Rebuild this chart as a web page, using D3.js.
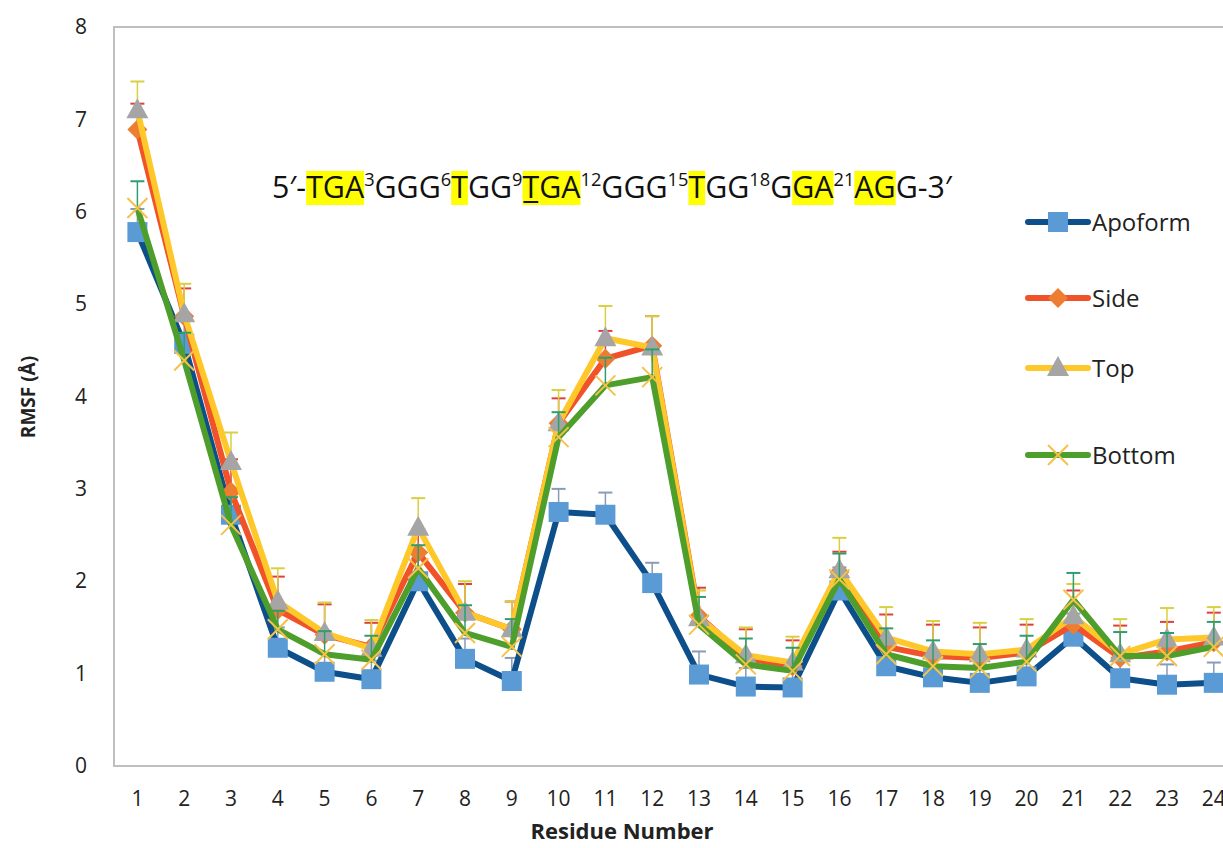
<!DOCTYPE html>
<html>
<head>
<meta charset="utf-8">
<script src="https://cdn.jsdelivr.net/npm/d3@7"></script>
<style>
body { margin: 0; background: #fff; }
text { font-family: "Open Sans", "Liberation Sans", sans-serif; }
</style>
</head>
<body>
<script>
var residues = d3.range(1, 25);

var apoform = [5.78, 4.57, 2.72, 1.28, 1.02, 0.94, 2.0, 1.16, 0.92, 2.75, 2.72, 1.98,
               0.99, 0.86, 0.85, 1.9, 1.08, 0.96, 0.9, 0.97, 1.4, 0.95, 0.88, 0.9];
var side    = [6.89, 4.87, 2.97, 1.69, 1.42, 1.29, 2.31, 1.66, 1.48, 3.71, 4.41, 4.55,
               1.62, 1.17, 1.08, 2.1, 1.29, 1.19, 1.17, 1.23, 1.53, 1.17, 1.24, 1.34];
var top_    = [7.1, 4.89, 3.29, 1.78, 1.44, 1.27, 2.58, 1.66, 1.48, 3.71, 4.63, 4.53,
               1.6, 1.2, 1.12, 2.12, 1.39, 1.24, 1.21, 1.26, 1.62, 1.21, 1.37, 1.39];
var bottom  = [6.04, 4.39, 2.61, 1.48, 1.21, 1.15, 2.14, 1.44, 1.29, 3.56, 4.12, 4.21,
               1.53, 1.1, 1.03, 2.02, 1.21, 1.08, 1.06, 1.13, 1.8, 1.19, 1.19, 1.29];

var apoformErr = [0.25, 0.3, 0.25, 0.22, 0.2, 0.2, 0.25, 0.22, 0.25, 0.25, 0.24, 0.22,
                  0.25, 0.2, 0.2, 0.25, 0.2, 0.2, 0.2, 0.22, 0.25, 0.2, 0.22, 0.22];
var sideErr    = [0.28, 0.3, 0.35, 0.36, 0.33, 0.26, 0.25, 0.31, 0.3, 0.27, 0.3, 0.32,
                  0.31, 0.31, 0.28, 0.22, 0.35, 0.34, 0.33, 0.3, 0.37, 0.35, 0.32, 0.32];
var topErr     = [0.31, 0.33, 0.32, 0.36, 0.33, 0.31, 0.32, 0.34, 0.3, 0.36, 0.35, 0.34,
                  0.3, 0.3, 0.28, 0.35, 0.33, 0.33, 0.34, 0.33, 0.35, 0.38, 0.34, 0.33];
var bottomErr  = [0.29, 0.3, 0.3, 0.2, 0.25, 0.26, 0.25, 0.3, 0.3, 0.27, 0.3, 0.3,
                  0.3, 0.28, 0.25, 0.28, 0.28, 0.28, 0.26, 0.28, 0.29, 0.26, 0.25, 0.27];

var yTicks = [0, 1, 2, 3, 4, 5, 6, 7, 8];

// sequence pieces: text, kind (n = normal, h = highlighted, s = superscript), underline
var seqText = ["5\u2032-", "TGA", "3", "GGG", "6", "T", "GG", "9", "T", "GA", "12", "GGG", "15",
               "T", "GG", "18", "G", "GA", "21", "AG", "G-3\u2032"];
var seqKind = ["n", "h", "s", "n", "s", "h", "n", "s", "h", "h", "s", "n", "s",
               "h", "n", "s", "n", "h", "s", "h", "n"];
var seqUnder = [8];

var w = 1223;
var h = 848;

var svg = d3.select("body")
			.append("svg")
			.attr("width", w)
			.attr("height", h);

var xScale = d3.scaleBand()
				.domain(residues)
				.range([114, 114 + 24 * 46.8]);

var yScale = d3.scaleLinear()
				.domain([0, 8])
				.range([766, 27]);

var cx = function(i){ return xScale(residues[i]) + xScale.bandwidth() / 2; };

// plot frame
svg.append("rect")
	.attr("x", 114)
	.attr("y", 27)
	.attr("width", 24 * 46.8 + 20)
	.attr("height", 766 - 27)
	.attr("fill", "none")
	.attr("stroke", "#bfbfbf")
	.attr("stroke-width", 2);

var yAxis = d3.axisLeft(yScale).tickValues(yTicks).tickSize(0).tickPadding(27);
var gy = svg.append("g").attr("transform", "translate(114,0)").call(yAxis);
gy.select(".domain").remove();
gy.selectAll("text").attr("font-size", "21px").attr("fill", "#222");

var xAxis = d3.axisBottom(xScale).tickSize(0).tickPadding(25);
var gx = svg.append("g").attr("transform", "translate(0,766)").call(xAxis);
gx.select(".domain").remove();
gx.selectAll("text").attr("font-size", "21px").attr("fill", "#222");

svg.append("text")
	.attr("x", 622)
	.attr("y", 839)
	.attr("text-anchor", "middle")
	.attr("font-size", "22px")
	.attr("font-weight", "bold")
	.attr("fill", "#222")
	.text("Residue Number");

svg.append("text")
	.attr("transform", "translate(35,397) rotate(-90)")
	.attr("text-anchor", "middle")
	.attr("font-size", "19px")
	.attr("font-weight", "bold")
	.attr("fill", "#222")
	.text("RMSF (\u00c5)");

var series = [
	{name: "Apoform", vals: apoform, err: apoformErr, line: "#0d4f8b", mark: "#5b9bd5", errc: "#8a9bb5", sym: "square", ly: 222},
	{name: "Side", vals: side, err: sideErr, line: "#f0522a", mark: "#ed7d31", errc: "#e0403c", sym: "diamond", ly: 298},
	{name: "Top", vals: top_, err: topErr, line: "#ffc82a", mark: "#a5a5a5", errc: "#d8d040", sym: "triangle", ly: 368},
	{name: "Bottom", vals: bottom, err: bottomErr, line: "#4e9e2c", mark: "#f4c24a", errc: "#2e9e70", sym: "cross", ly: 455}
];

function marker(g, s){
	if (s.sym == "square") {
		g.append("rect").attr("x", -10).attr("y", -10).attr("width", 20).attr("height", 20).attr("fill", s.mark);
	} else if (s.sym == "diamond") {
		g.append("path").attr("d", "M0,-10L10,0L0,10L-10,0Z").attr("fill", s.mark);
	} else if (s.sym == "triangle") {
		g.append("path").attr("d", "M0,-12L11,8L-11,8Z").attr("fill", s.mark);
	} else {
		g.append("path").attr("d", "M-10,-10L10,10M10,-10L-10,10").attr("stroke", s.mark).attr("stroke-width", 2);
	}
}

var line = d3.line()
				.x(function(d, i){ return cx(i); })
				.y(function(d){ return yScale(d); });

series.forEach(function(s){
	var g = svg.append("g");
	// upper error bars
	var eb = g.selectAll(".eb").data(s.vals).enter().append("g");
	eb.append("line")
		.attr("x1", function(d, i){ return cx(i); })
		.attr("x2", function(d, i){ return cx(i); })
		.attr("y1", function(d){ return yScale(d); })
		.attr("y2", function(d, i){ return yScale(d + s.err[i]); })
		.attr("stroke", s.errc).attr("stroke-width", 1.5);
	eb.append("line")
		.attr("x1", function(d, i){ return cx(i) - 7; })
		.attr("x2", function(d, i){ return cx(i) + 7; })
		.attr("y1", function(d, i){ return yScale(d + s.err[i]); })
		.attr("y2", function(d, i){ return yScale(d + s.err[i]); })
		.attr("stroke", s.errc).attr("stroke-width", 2);

	g.append("path")
		.attr("d", line(s.vals))
		.attr("fill", "none")
		.attr("stroke", s.line)
		.attr("stroke-width", 6)
		.attr("stroke-linejoin", "round");

	g.selectAll(".pt").data(s.vals).enter().append("g")
		.attr("transform", function(d, i){ return "translate(" + cx(i) + "," + yScale(d) + ")"; })
		.each(function(){ marker(d3.select(this), s); });

	// legend
	var lg = svg.append("g").attr("transform", "translate(1028," + s.ly + ")");
	lg.append("line").attr("x1", 0).attr("x2", 60).attr("stroke", s.line).attr("stroke-width", 6).attr("stroke-linecap", "round");
	var lm = lg.append("g").attr("transform", "translate(30,0)");
	marker(lm, s);
	lg.append("text").attr("x", 64).attr("y", 9).attr("font-size", "24px").attr("fill", "#222").text(s.name);
});

// sequence annotation
var seq = svg.append("g");
function layoutSeq(fs){
	seq.selectAll("*").remove();
	var x = 272;
	var base = 198;
	seqText.forEach(function(t, i){
		var k = seqKind[i];
		var size = k == "s" ? fs * 0.6 : fs;
		var txt = seq.append("text")
			.attr("x", x)
			.attr("y", k == "s" ? base - fs * 0.38 : base)
			.attr("font-size", size + "px")
			.attr("fill", "#111")
			.text(t);
		var tw = txt.node().getComputedTextLength();
		if (k == "h") {
			seq.insert("rect", "text").attr("x", x).attr("y", 171).attr("width", tw).attr("height", 34).attr("fill", "#ffff00");
		}
		if (seqUnder.indexOf(i) >= 0) {
			seq.append("line").attr("x1", x + 1).attr("x2", x + tw - 1).attr("y1", base + 4).attr("y2", base + 4)
				.attr("stroke", "#111").attr("stroke-width", 2);
		}
		x += tw;
	});
	return x - 272;
}
var fs0 = 26;
var tw0 = layoutSeq(fs0);
layoutSeq(fs0 * 680 / tw0);
</script>
</body>
</html>
